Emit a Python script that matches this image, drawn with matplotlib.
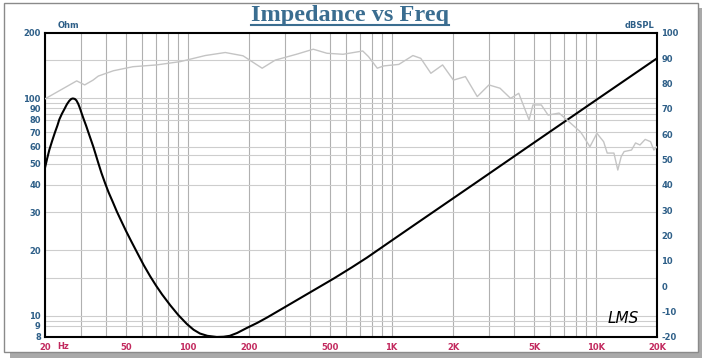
import matplotlib
matplotlib.use("Agg")
import matplotlib.pyplot as plt
from matplotlib.patches import Rectangle
from matplotlib.lines import Line2D
from matplotlib.ticker import FixedLocator, NullFormatter, NullLocator

plt.rcParams["axes.unicode_minus"] = False

# impedance curve (Ohm)
imp_freq = [20, 20.5, 21, 21.7, 22.4, 23, 23.5, 24.2, 25, 25.6, 26.3, 26.9,
            27.4, 28, 28.5, 29.1, 29.7, 30.3, 31, 31.8, 32.6, 33.5, 34.5,
            35.5, 36.5, 37.8, 39.4, 41, 43, 45, 47.5, 50, 53, 57, 61, 65.6,
            70, 75, 82.2, 90, 99.2, 107, 115, 125, 139, 150, 161, 175, 195,
            220, 246, 300, 358, 440, 520, 640, 758, 1000, 1300, 2000, 2572,
            5000, 10000, 20000]
imp_ohm = [48, 53, 58, 64, 70, 75, 80, 85, 90, 94, 97.5, 99.5,
           100, 99.5, 98, 94.5, 90, 85, 80, 75, 70, 65, 60,
           55, 50.5, 45.5, 40.8, 37.0, 33.4, 30.2, 27.1, 24.5, 22.0, 19.3,
           17.1, 15.2, 13.8, 12.55, 11.2, 10.1, 9.18, 8.64, 8.3, 8.1, 8.0,
           8.02, 8.1, 8.35, 8.8, 9.3, 9.85, 10.98, 12.1, 13.55, 14.85, 16.75,
           18.55, 22.2, 26.3, 34.7, 40.8, 62.7, 98, 153]

# SPL curve (dB) on the right axis
spl_freq = [20, 28.6, 31.3, 34.4, 36.5, 43.3, 54, 70.5, 92, 122, 153, 187,
            232, 269, 345, 413, 482, 578, 722, 770, 851, 914, 1085, 1272,
            1390, 1558, 1778, 2010, 2300, 2630, 3000, 3400, 3830, 4200, 4720,
            4930, 5420, 5850, 6620, 7400, 8420, 8640, 9380, 10150, 10950,
            11400, 12300, 12850, 13350, 13800, 15000, 15700, 16500, 17500,
            18600, 19300, 20000]
spl_db = [74.0, 81.1, 79.5, 81.4, 83.0, 85.1, 86.7, 87.4, 88.7, 91.1, 92.3,
          91.0, 86.1, 89.3, 91.7, 93.6, 92.0, 91.6, 92.9, 90.7, 86.1, 87.0,
          87.6, 91.1, 90.0, 84.1, 87.4, 81.4, 82.8, 74.9, 79.5, 78.2, 74.2,
          76.2, 65.7, 71.6, 71.6, 67.6, 68.4, 65.0, 61.0, 59.7, 55.1, 60.4,
          57.1, 52.6, 52.6, 45.9, 51.2, 53.2, 53.8, 56.6, 55.8, 58.0, 57.1,
          53.8, 55.1]

x_ticks = [20, 50, 100, 200, 500, 1000, 2000, 5000, 10000, 20000]
x_labels = ["20", "50", "100", "200", "500", "1K", "2K", "5K", "10K", "20K"]
ohm_ticks = [8, 9, 10, 20, 30, 40, 50, 60, 70, 80, 90, 100, 200]
ohm_grid = [9, 9.5, 10, 15, 20, 30, 40, 50, 55, 60, 70, 80, 85, 90, 95, 100, 150]
db_ticks = [-20, -10, 0, 10, 20, 30, 40, 50, 60, 70, 80, 90, 100]

blue = "#2e5f88"
red = "#c2295e"

fig = plt.figure(figsize=(7.06, 3.63), dpi=100)
W, H = 706, 363

# outer frame with drop shadow
fig.add_artist(Rectangle((10 / W, (H - 358) / H), 692 / W, 350 / H,
                         transform=fig.transFigure, facecolor="#a9a9a9",
                         edgecolor="none", zorder=0))
fig.add_artist(Rectangle((4 / W, (H - 352) / H), 694 / W, 349 / H,
                         transform=fig.transFigure, facecolor="white",
                         edgecolor="#8a8a8a", lw=1, zorder=0))

ax = fig.add_axes([45 / W, (H - 337) / H, 612 / W, 304 / H])
ax.set_xscale("log")
ax.set_yscale("log")
ax.set_xlim(20, 20000)
ax.set_ylim(8, 200)
ax.patch.set_alpha(0)

# grid
minor_x = [m * 10 ** e for e in range(1, 5) for m in range(1, 10)]
for f in minor_x:
    if 20 <= f <= 20000:
        ax.axvline(f, color="#b0b0b0", lw=0.8, zorder=1)
for o in ohm_grid:
    ax.axhline(o, color="#cdcdcd", lw=0.8, zorder=1)

ax.plot(imp_freq, imp_ohm, color="black", lw=1.5, zorder=4)

ax.xaxis.set_major_locator(FixedLocator(x_ticks))
ax.xaxis.set_minor_locator(NullLocator())
ax.set_xticklabels(x_labels)
ax.yaxis.set_major_locator(FixedLocator(ohm_ticks))
ax.yaxis.set_minor_locator(NullLocator())
ax.yaxis.set_minor_formatter(NullFormatter())
ax.set_yticklabels([str(t) for t in ohm_ticks])
ax.tick_params(axis="x", length=0, pad=4, labelsize=6, labelcolor=red)
ax.tick_params(axis="y", length=0, pad=3, labelsize=6, labelcolor=blue)
for lab in ax.get_xticklabels() + ax.get_yticklabels():
    lab.set_fontweight("bold")

for s in ax.spines.values():
    s.set_color("black")
    s.set_linewidth(1.5)

ax2 = ax.twinx()
ax2.set_ylim(-20, 100)
ax2.plot(spl_freq, spl_db, color="#c4c4c4", lw=1, zorder=3)
ax2.set_yticks(db_ticks)
ax2.tick_params(axis="y", length=0, pad=3, labelsize=6, labelcolor=blue)
for lab in ax2.get_yticklabels():
    lab.set_fontweight("bold")
for s in ax2.spines.values():
    s.set_visible(False)

ax.text(24.5, 7.55, "Hz", color=red, fontsize=6, fontweight="bold",
        ha="center", va="top")
ax.text(0.02, 1.01, "Ohm", transform=ax.transAxes, color=blue, fontsize=6,
        fontweight="bold", ha="left", va="bottom")
ax.text(0.995, 1.01, "dBSPL", transform=ax.transAxes, color=blue, fontsize=6,
        fontweight="bold", ha="right", va="bottom")
ax.text(0.945, 0.035, "LMS", transform=ax.transAxes, color="black",
        fontsize=11, style="italic", ha="center", va="bottom")

title = fig.text(350 / W, 1 - 15 / H, "Impedance vs Freq", color="#3a6d90",
                 fontsize=17.5, fontweight="bold", family="Liberation Serif",
                 ha="center", va="center")
fig.canvas.draw()
bb = title.get_window_extent()
fig.add_artist(Line2D([bb.x0 / W, bb.x1 / W], [1 - 25 / H, 1 - 25 / H],
                      transform=fig.transFigure, color="#3a6d90", lw=1.5))

fig.savefig("out.png", dpi=100)
